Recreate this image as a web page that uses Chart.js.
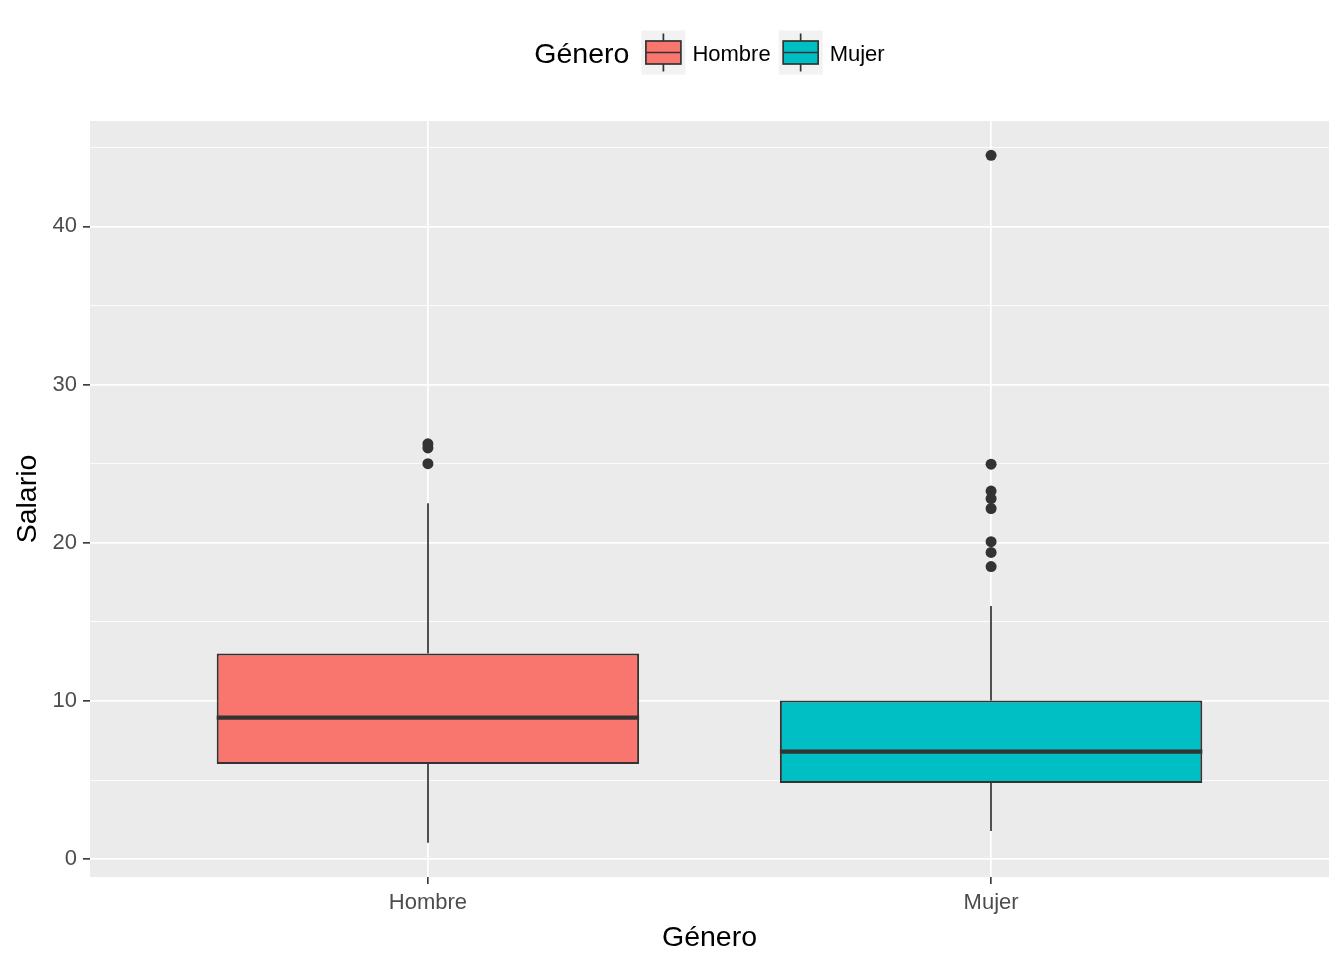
<!DOCTYPE html>
<html><head><meta charset="utf-8">
<script src="https://cdn.jsdelivr.net/npm/chart.js@4/dist/chart.umd.min.js"></script>
<style>html,body{margin:0;padding:0;background:#fff}#wrap{width:1344px;height:960px}</style>
</head><body><div id="wrap"><canvas id="c" width="1344" height="960"></canvas></div>
<script>
// ---- data ----
const categories = ['Hombre', 'Mujer'];
const q1 = [6.02, 4.82];
const medians = [8.95, 6.80];
const q3 = [13.01, 10.04];
const whiskerLow = [1.05, 1.79];
const whiskerHigh = [22.5, 16.0];
const outliersHombre = [26.26, 26.0, 25.0];
const outliersMujer = [44.49, 24.97, 23.27, 22.8, 22.17, 20.07, 19.39, 18.5];
const yMajorTicks = [0, 10, 20, 30, 40];
const yMinorTicks = [5, 15, 25, 35, 45];
const xTickPositions = [1, 2];
const fillColors = ['#F8766D', '#00BFC4'];

const FONT = '"Liberation Sans", Arial, sans-serif';
const INK = '#333333';
const yAllTicks = [...yMajorTicks, ...yMinorTicks].sort((a, b) => a - b);
const outlierSets = [outliersHombre, outliersMujer];

const datasets = categories.map((c, i) => ({
  type: 'bar', label: c,
  data: [{ x: xTickPositions[i], y: [q1[i], q3[i]] }],
  backgroundColor: fillColors[i], borderColor: INK, borderWidth: 2,
  borderSkipped: false, grouped: false, barPercentage: 0.75, categoryPercentage: 1,
  order: 2
}));
outlierSets.forEach((arr, i) => datasets.push({
  type: 'scatter', label: 'outliers ' + categories[i],
  data: arr.map(v => ({ x: xTickPositions[i], y: v })),
  pointRadius: 5.5, pointBackgroundColor: INK, pointBorderWidth: 0, pointHoverRadius: 5.5,
  order: 1
}));

const panelBg = {
  id: 'panelBg',
  beforeDraw(chart) {
    const { ctx, chartArea: a } = chart;
    ctx.save(); ctx.fillStyle = '#EBEBEB';
    ctx.fillRect(a.left, a.top, a.right - a.left, a.bottom - a.top);
    ctx.restore();
  }
};

const boxExtras = {
  id: 'boxExtras',
  beforeDatasetsDraw(chart) {
    const { ctx, scales: { y } } = chart;
    categories.forEach((c, i) => {
      const el = chart.getDatasetMeta(i).data[0];
      const x = Math.round(el.x);
      ctx.save(); ctx.strokeStyle = INK; ctx.lineWidth = 1.7; ctx.beginPath();
      ctx.moveTo(x, y.getPixelForValue(q3[i])); ctx.lineTo(x, y.getPixelForValue(whiskerHigh[i]));
      ctx.moveTo(x, y.getPixelForValue(q1[i])); ctx.lineTo(x, y.getPixelForValue(whiskerLow[i]));
      ctx.stroke(); ctx.restore();
    });
  },
  afterDatasetsDraw(chart) {
    const { ctx, scales: { y } } = chart;
    categories.forEach((c, i) => {
      const el = chart.getDatasetMeta(i).data[0];
      const py = y.getPixelForValue(medians[i]);
      ctx.save(); ctx.strokeStyle = INK; ctx.lineWidth = 4.2; ctx.beginPath();
      ctx.moveTo(el.x - el.width / 2, py); ctx.lineTo(el.x + el.width / 2, py);
      ctx.stroke(); ctx.restore();
    });
  }
};

const ggLegend = {
  id: 'ggLegend',
  afterDraw(chart) {
    const { ctx, chartArea: a } = chart;
    const title = 'Género';
    const titleFont = '28.5px ' + FONT, labelFont = '22px ' + FONT;
    ctx.save();
    ctx.font = titleFont; const tw = ctx.measureText(title).width;
    ctx.font = labelFont;
    const lw = categories.map(c => ctx.measureText(c).width);
    const key = 44, gapTitle = 12, gapKey = 7, gapItem = 8;
    let total = tw + gapTitle;
    lw.forEach((w, i) => { total += key + gapKey + w + (i < lw.length - 1 ? gapItem : 0); });
    let x = (a.left + a.right) / 2 - total / 2;
    const cy = 52.5;
    ctx.textBaseline = 'middle'; ctx.textAlign = 'left'; ctx.fillStyle = '#000';
    ctx.font = titleFont; ctx.fillText(title, x, cy + 3); x += tw + gapTitle;
    categories.forEach((c, i) => {
      ctx.fillStyle = '#F2F2F2'; ctx.fillRect(x, cy - key / 2, key, key);
      const bx = x + 4.5, bw = key - 9, cx = x + key / 2;
      ctx.strokeStyle = INK; ctx.lineWidth = 1.7;
      ctx.beginPath(); ctx.moveTo(cx, cy - 19); ctx.lineTo(cx, cy + 19); ctx.stroke();
      ctx.fillStyle = fillColors[i]; ctx.fillRect(bx, cy - 11.5, bw, 23);
      ctx.strokeRect(bx, cy - 11.5, bw, 23);
      ctx.beginPath(); ctx.moveTo(bx, cy); ctx.lineTo(bx + bw, cy); ctx.stroke();
      x += key + gapKey;
      ctx.fillStyle = '#000'; ctx.font = labelFont; ctx.fillText(c, x, cy + 2);
      x += lw[i] + gapItem;
    });
    ctx.restore();
  }
};

new Chart(document.getElementById('c'), {
  type: 'bar',
  data: { datasets },
  plugins: [panelBg, boxExtras, ggLegend],
  options: {
    responsive: false, devicePixelRatio: 1, animation: false, events: [],
    layout: { padding: { top: 121, right: 15, bottom: 0, left: 0 } },
    plugins: { legend: { display: false }, tooltip: { enabled: false } },
    scales: {
      x: {
        type: 'linear', min: 0.4, max: 2.6, offset: false,
        afterBuildTicks(s) { s.ticks = xTickPositions.map(v => ({ value: v })); },
        afterFit(s) { s.height = 83; },
        border: { display: false },
        grid: { offset: false, color: '#FFFFFF', lineWidth: 1.7, tickColor: INK, tickWidth: 1.6, tickLength: 7 },
        ticks: {
          autoSkip: false, maxRotation: 0, padding: 6, color: '#4D4D4D',
          font: { family: FONT, size: 22 },
          callback: v => categories[xTickPositions.indexOf(v)] || ''
        },
        title: { display: true, text: 'Género', color: '#000', font: { family: FONT, size: 28.5 }, padding: { top: 0, bottom: 5 } }
      },
      y: {
        type: 'linear', min: -1.12, max: 46.66,
        afterBuildTicks(s) { s.ticks = yAllTicks.map(v => ({ value: v })); },
        afterFit(s) { s.width = 90; },
        border: { display: false },
        grid: {
          color: '#FFFFFF',
          lineWidth: c => (c.tick && yMajorTicks.includes(c.tick.value)) ? 1.7 : 0.85,
          tickColor: c => (c.tick && yMajorTicks.includes(c.tick.value)) ? INK : 'rgba(0,0,0,0)',
          tickWidth: 1.6, tickLength: 7
        },
        ticks: {
          autoSkip: false, padding: 6, color: '#4D4D4D',
          font: { family: FONT, size: 22 },
          callback: v => yMajorTicks.includes(v) ? String(v) : ''
        },
        title: { display: true, text: 'Salario', color: '#000', font: { family: FONT, size: 28.5 }, padding: { top: 11, bottom: 0 } }
      }
    }
  }
});
</script></body></html>
